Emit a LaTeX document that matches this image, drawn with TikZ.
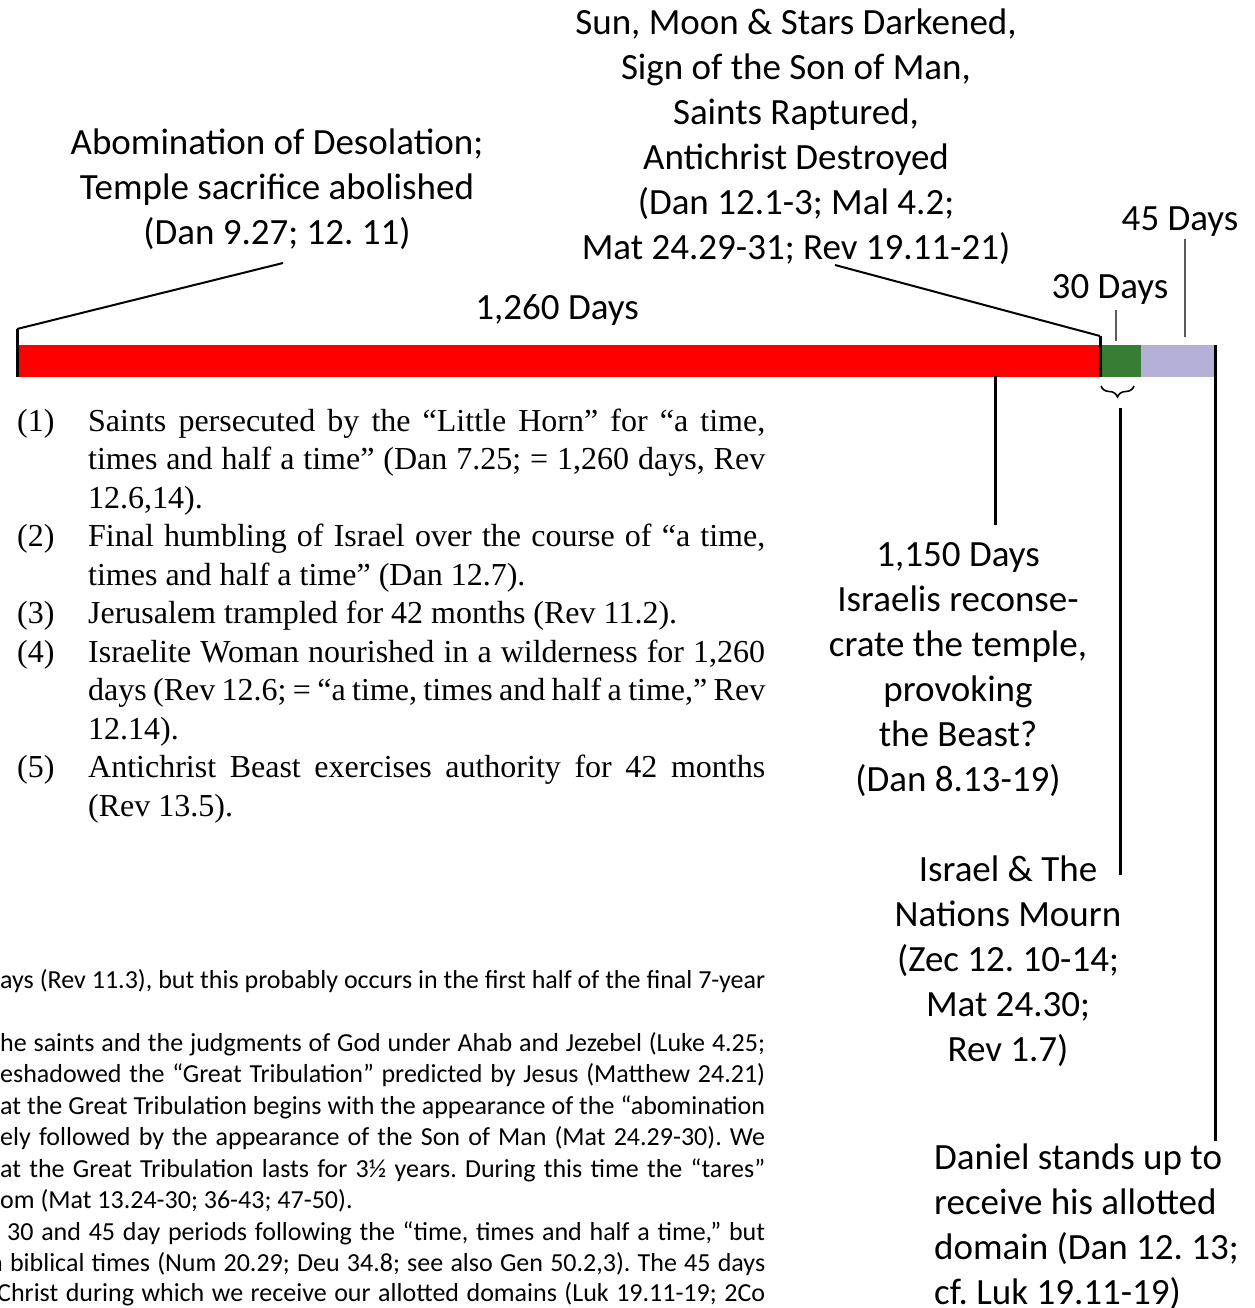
\documentclass[tikz,border=0pt]{standalone}
\usepackage{fontspec}
\setmainfont{Carlito}
\newfontfamily\listserif{Liberation Serif}
\usetikzlibrary{decorations.pathreplacing}
\definecolor{barred}{RGB}{255,0,0}
\definecolor{bargreen}{RGB}{55,125,52}
\definecolor{barlav}{RGB}{180,176,216}
\definecolor{tickgray}{RGB}{90,90,90}
\frenchspacing
\begin{document}
\begin{tikzpicture}[x=1pt,y=-1pt,
  lbl/.style={inner sep=0, align=center, font=\fontsize{37}{45}\selectfont},
  barseg/.style={inner sep=0, outer sep=0, anchor=north west, minimum height=32pt},
  lead/.style={line width=2pt},
  heavy/.style={line width=3pt},
  tickline/.style={line width=2pt, draw=tickgray},
  para/.style={inner sep=0, anchor=base west, font=\fontsize{26}{31.5}\selectfont}]
\useasboundingbox (0,0) rectangle (1254,1308);

% bar
\node[barseg, fill=barred, minimum width=1083pt] (red) at (17,345) {};
\node[barseg, fill=bargreen, minimum width=41pt] (green) at (red.north east) {};
\node[barseg, fill=barlav, minimum width=74pt] (lav) at (green.north east) {};

% labels
\node[lbl] (abom) at (277,189) {Abomination of Desolation;\\Temple sacrifice abolished\\(Dan 9.27; 12. 11)};
\node[lbl] (sun) at (796,137) {Sun, Moon \& Stars Darkened,\\Sign of the Son of Man,\\Saints Raptured,\\Antichrist Destroyed\\(Dan 12.1-3; Mal 4.2;\\Mat 24.29-31; Rev 19.11-21)};
\node[lbl, anchor=base] (d45) at (1180,230) {45 Days};
\node[lbl, anchor=base] (d30) at (1110,298) {30 Days};
\node[lbl, anchor=base] (d1260) at (557,319) {1,260 Days};
\node[lbl] (d1150) at (958,670) {1,150 Days\\Israelis reconse-\\crate the temple,\\provoking\\the Beast?\\(Dan 8.13-19)};
\node[lbl] (mourn) at (1008,961) {Israel \& The\\Nations Mourn\\(Zec 12. 10-14;\\Mat 24.30;\\Rev 1.7)};
\node[lbl, align=left, anchor=west] (daniel) at (934,1227) {Daniel stands up to\\receive his allotted\\domain (Dan 12. 13;\\cf. Luk 19.11-19)};

% connectors
\coordinate (abomEnd) at (283,263);
\coordinate (abomKnee) at (17,329);
\draw[heavy] (red.south west) -- (abomKnee);
\draw[lead] (abomKnee) -- (abomEnd);

\coordinate (sunEnd) at (835,265);
\coordinate (sunKnee) at (1100,336);
\draw[lead] (sunEnd) -- (sunKnee);
\draw[heavy] (sunKnee) -- (green.south west);

\coordinate (t30a) at (1116,310);
\coordinate (t30b) at (1116,341);
\draw[tickline] (t30a) -- (t30b);
\coordinate (t45a) at (1185,239);
\coordinate (t45b) at (1185,337);
\draw[tickline] (t45a) -- (t45b);

\coordinate (l1150a) at (995.5,376);
\coordinate (l1150b) at (995.5,525);
\draw[heavy] (l1150a) -- (l1150b);

\coordinate (braceL) at (1101,386);
\coordinate (braceR) at (1134,386);
\draw[decorate, decoration={brace, mirror, amplitude=11pt}, line width=1.6pt] (braceL) -- (braceR);
\coordinate (mournTop) at (1120.7,408);
\coordinate (mournBot) at (1120.7,875);
\draw[heavy] (mournTop) -- (mournBot);

\coordinate (rightEnd) at (1215,1141);
\draw[heavy] (lav.north east) -- (rightEnd);

% numbered list
\node[anchor=base west, inner sep=0] (list) at (17,431) {\begin{minipage}[t]{748pt}\listserif\fontsize{32}{38.5}\selectfont
\parindent=0pt\parskip=0pt\tolerance=9999\emergencystretch=20pt
\hangindent=71pt\hangafter=1\makebox[71pt][l]{(1)}Saints persecuted by the “Little Horn” for “a time,\linebreak times and half a time” (Dan 7.25; = 1,260 days, Rev\linebreak 12.6,14).\par
\hangindent=71pt\hangafter=1\makebox[71pt][l]{(2)}Final humbling of Israel over the course of “a time,\linebreak times and half a time” (Dan 12.7).\par
\hangindent=71pt\hangafter=1\makebox[71pt][l]{(3)}Jerusalem trampled for 42 months (Rev 11.2).\par
\hangindent=71pt\hangafter=1\makebox[71pt][l]{(4)}Israelite Woman nourished in a wilderness for 1,260\linebreak days (Rev 12.6; = “a time, times and half a time,” Rev\linebreak 12.14).\par
\hangindent=71pt\hangafter=1\makebox[71pt][l]{(5)}Antichrist Beast exercises authority for 42 months\linebreak (Rev 13.5).\par
\end{minipage}};

% clipped paragraph at bottom left
\begin{scope}
\clip (0,0) rectangle (1254,1308);
\node[para] (p1) at (0,988) {\makebox[765pt][s]{ays (Rev 11.3), but this probably occurs in the first half of the final 7-year}};
\node[para] (p2) at (0,1051) {\makebox[765pt][s]{he saints and the judgments of God under Ahab and Jezebel (Luke 4.25;}};
\node[para] (p3) at (0,1082.5) {\makebox[765pt][s]{eshadowed the “Great Tribulation” predicted by Jesus (Matthew 24.21)}};
\node[para] (p4) at (0,1114) {\makebox[765pt][s]{at the Great Tribulation begins with the appearance of the “abomination}};
\node[para] (p5) at (0,1145.5) {\makebox[765pt][s]{ely followed by the appearance of the Son of Man (Mat 24.29-30). We}};
\node[para] (p6) at (0,1177) {\makebox[765pt][s]{at the Great Tribulation lasts for 3½ years. During this time the “tares”}};
\node[para] (p7) at (0,1208.5) {om (Mat 13.24-30; 36-43; 47-50).};
\node[para] (p8) at (7,1240) {\makebox[758pt][s]{30 and 45 day periods following the “time, times and half a time,” but}};
\node[para] (p9) at (-11,1271.5) {\makebox[776pt][s]{n biblical times (Num 20.29; Deu 34.8; see also Gen 50.2,3). The 45 days}};
\node[para] (p10) at (-3,1301) {\makebox[768pt][s]{Christ during which we receive our allotted domains (Luk 19.11-19; 2Co}};
\end{scope}
\end{tikzpicture}
\end{document}
